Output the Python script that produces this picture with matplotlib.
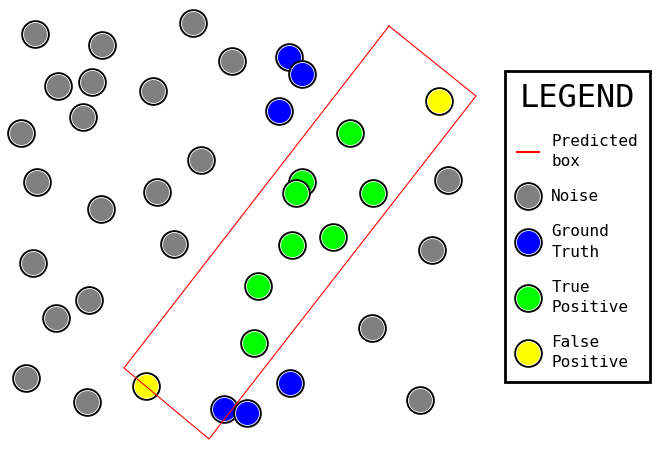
import matplotlib.pyplot as plt
from matplotlib.lines import Line2D

# circle centres (pixel coordinates, y downwards)
noise_x = [35, 102, 193, 232, 58, 92, 153, 83, 21, 201, 37, 157, 101, 174, 33, 89, 56, 26, 87, 448, 432, 372, 420]
noise_y = [34, 45, 23, 61, 86, 82, 91, 117, 133, 160, 182, 192, 209, 244, 263, 300, 318, 378, 402, 180, 250, 328, 400]

truth_x = [289, 302, 279, 290, 224, 247]
truth_y = [57, 74, 111, 383, 409, 413]

tp_x = [350, 302, 296, 373, 292, 333, 258, 254]
tp_y = [133, 182, 193, 193, 245, 237, 286, 343]

fp_x = [439, 146]
fp_y = [101, 386]

# corners of the predicted (rotated) box
box_x = [389, 476, 209, 124, 389]
box_y = [26, 96, 439, 368, 26]

colors = {"noise": "#808080", "truth": "#0000ff", "tp": "#00ff00", "fp": "#ffff00"}

fig = plt.figure(figsize=(6.72, 4.72), dpi=100)
ax = fig.add_axes([0, 0, 1, 1])
ax.set_xlim(0, 672)
ax.set_ylim(472, 0)
ax.axis("off")


def dot(x, y, c, z):
    ax.plot(x, y, "o", ms=19, mfc=c, mec="black", mew=1.6, zorder=z)
    ax.plot(x, y, "o", ms=17.2, mfc=c, mec="white", mew=0.6, zorder=z)


z = 2
for xs, ys, key in [(noise_x, noise_y, "noise"), (truth_x, truth_y, "truth"),
                    (tp_x, tp_y, "tp"), (fp_x, fp_y, "fp")]:
    for x, y in zip(xs, ys):
        dot(x, y, colors[key], z)
        z += 0.01

ax.plot(box_x, box_y, color="red", lw=0.8, zorder=10)


def handle(c):
    outer = Line2D([], [], ls="none", marker="o", ms=19, mfc=c, mec="black", mew=1.6)
    inner = Line2D([], [], ls="none", marker="o", ms=17.2, mfc=c, mec="white", mew=0.6)
    return (outer, inner)


handles = [Line2D([], [], color="red", lw=1.5),
           handle(colors["noise"]), handle(colors["truth"]),
           handle(colors["tp"]), handle(colors["fp"])]
labels = ["Predicted\nbox", "Noise", "Ground\nTruth", "True\nPositive", "False\nPositive"]

leg = fig.legend(handles, labels, loc="upper left",
                 bbox_to_anchor=(505 / 672, 1 - 71 / 472), borderaxespad=0,
                 prop={"family": "DejaVu Sans Mono", "size": 11.5},
                 title="LEGEND",
                 title_fontproperties={"family": "DejaVu Sans Mono", "size": 23},
                 fancybox=False, edgecolor="black", framealpha=1,
                 handlelength=1.4, handletextpad=0.75, labelspacing=1.25,
                 borderpad=0.75)
leg.get_frame().set_linewidth(2)
for t in leg.get_texts():
    t.set_linespacing(1.45)

fig.savefig("out.png", dpi=100)
